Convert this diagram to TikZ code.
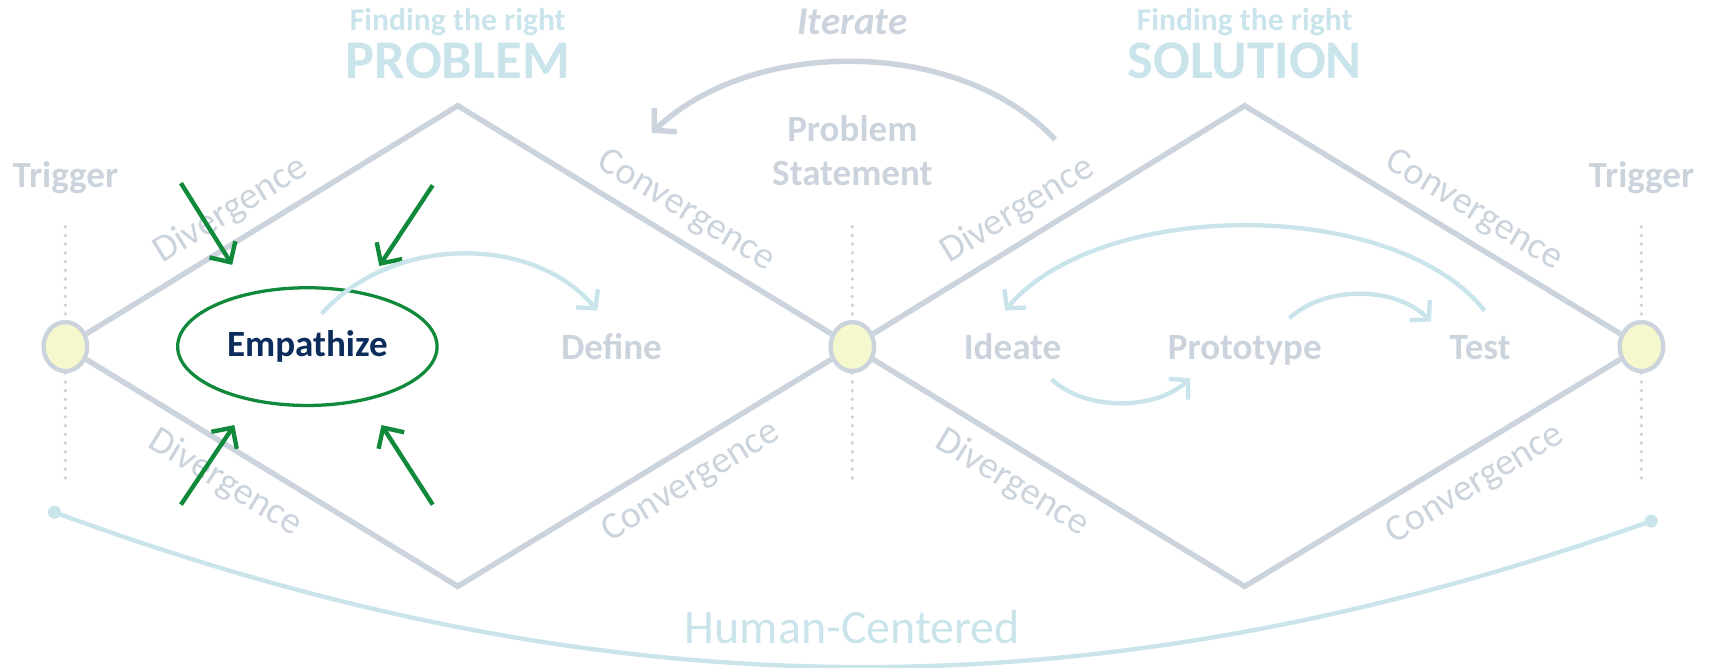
\documentclass[tikz,border=0pt]{standalone}
\usepackage{fontspec}
\setmainfont{Carlito}
\usetikzlibrary{arrows.meta,shapes.geometric}

\definecolor{cinza}{HTML}{CBD3DC}
\definecolor{azul}{HTML}{C9E4EB}
\definecolor{amarelo}{HTML}{F5F7CD}
\definecolor{verde}{HTML}{108A3A}
\definecolor{marinho}{HTML}{0C2D5B}

\begin{document}
\begin{tikzpicture}[
    x=0.5pt, y=-0.5pt,
    every node/.style={font=\fontsize{17}{20}\selectfont\bfseries, text=cinza}
  ]

  \tikzset{
    gate/.style={ellipse, draw=cinza, line width=2pt, fill=amarelo, minimum width=20pt, minimum height=22.5pt, inner sep=0pt},
    stage/.style={anchor=base},
    edgelab/.style={font=\fontsize{17.5}{20}\selectfont, sloped},
    track/.style={draw=cinza, line width=2.5pt},
    dots/.style={draw=cinza, line width=1.75pt, line cap=round, dash pattern=on 0pt off 4pt},
    bluearc/.style={draw=azul, line width=2pt, -{Straight Barb[length=6pt, width=13pt]}},
    greyarc/.style={draw=cinza, line width=2.5pt, -{Straight Barb[length=7pt, width=15pt]}},
    greenarr/.style={draw=verde, line width=2pt, -{Straight Barb[length=7pt, width=14pt]}},
    head/.style={anchor=base, text=azul}
  }

  \useasboundingbox (0,0) rectangle (1568,612);

  % Titles
  \node[head, font=\fontsize{14.5}{16}\selectfont\bfseries] (fr1) at (420,28) {Finding the right};
  \node[head, font=\fontsize{25}{27}\selectfont\bfseries] (prob) at (420,72) {PROBLEM};
  \node[head, font=\fontsize{14.5}{16}\selectfont\bfseries] (fr2) at (1142,28) {Finding the right};
  \node[head, font=\fontsize{25}{27}\selectfont\bfseries] (sol) at (1142,72) {SOLUTION};
  \node[stage, font=\fontsize{18}{20}\selectfont\bfseries\itshape] (iter) at (782,32) {Iterate};

  \node[stage] (trgA) at (60,172) {Trigger};
  \node[stage] (trgB) at (1506,172) {Trigger};
  \node[stage] (ps1) at (782,130) {Problem};
  \node[stage] (ps2) at (782,170) {Statement};

  % Diamond corners
  \coordinate (probTop) at (420,97);
  \coordinate (probBot) at (420,538);
  \coordinate (solTop) at (1142,97);
  \coordinate (solBot) at (1142,538);

  % Dotted guides
  \coordinate (dA1) at (60,208);
  \coordinate (dA2) at (60,445);
  \coordinate (dM1) at (782,208);
  \coordinate (dM2) at (782,445);
  \coordinate (dB1) at (1506,208);
  \coordinate (dB2) at (1506,445);

  % Gates
  \node[gate] (trigA) at (60,318) {};
  \node[gate] (stmt) at (782,318) {};
  \node[gate] (trigB) at (1506,318) {};

  \draw[dots] (dA1) -- (trigA);
  \draw[dots] (trigA) -- (dA2);
  \draw[dots] (dM1) -- (stmt);
  \draw[dots] (stmt) -- (dM2);
  \draw[dots] (dB1) -- (trigB);
  \draw[dots] (trigB) -- (dB2);

  % Problem diamond
  \draw[track] (trigA) -- node[edgelab, above=1.5pt, pos=.43] {Divergence} (probTop)
    -- node[edgelab, above=1.5pt, pos=.57] {Convergence} (stmt);
  \draw[track] (trigA) -- node[edgelab, below=3pt, pos=.42] {Divergence} (probBot)
    -- node[edgelab, below=3pt, pos=.58] {Convergence} (stmt);

  % Solution diamond
  \draw[track] (stmt) -- node[edgelab, above=1.5pt, pos=.43] {Divergence} (solTop)
    -- node[edgelab, above=1.5pt, pos=.57] {Convergence} (trigB);
  \draw[track] (stmt) -- node[edgelab, below=3pt, pos=.42] {Divergence} (solBot)
    -- node[edgelab, below=3pt, pos=.57] {Convergence} (trigB);

  % Stages
  \node[ellipse, draw=verde, line width=1.5pt, minimum width=119pt, minimum height=54pt, text=marinho] (emp) at (282,318) {Empathize};
  \node[stage] (def) at (561,330) {Define};
  \node[stage] (ide) at (929,330) {Ideate};
  \node[stage] (pro) at (1142,330) {Prototype};
  \node[stage] (tst) at (1358,330) {Test};

  % Green arrows
  \coordinate (g1a) at (166,168);
  \coordinate (g1b) at (213,243);
  \coordinate (g2a) at (397,170);
  \coordinate (g2b) at (348,244);
  \coordinate (g3a) at (166,463);
  \coordinate (g3b) at (215,390);
  \coordinate (g4a) at (397,463);
  \coordinate (g4b) at (350,390);
  \draw[greenarr] (g1a) -- (g1b);
  \draw[greenarr] (g2a) -- (g2b);
  \draw[greenarr] (g3a) -- (g3b);
  \draw[greenarr] (g4a) -- (g4b);

  % Blue loops
  \coordinate (b1a) at (295,288);
  \coordinate (b1b) at (548,285);
  \coordinate (b2a) at (1362,285);
  \coordinate (b2b) at (922,285);
  \coordinate (b3a) at (1183,292);
  \coordinate (b3b) at (1313,295);
  \coordinate (b4a) at (965,348);
  \coordinate (b4b) at (1092,347);
  \draw[bluearc] (b1a) .. controls (360,215) and (490,215) .. (b1b);
  \draw[bluearc] (b2a) .. controls (1280,181) and (1010,181) .. (b2b);
  \draw[bluearc] (b3a) .. controls (1215,262) and (1280,262) .. (b3b);
  \draw[bluearc] (b4a) .. controls (995,377) and (1060,377) .. (b4b);

  % Iterate
  \coordinate (itA) at (968,128);
  \coordinate (itB) at (598,122);
  \draw[greyarc] (itA) .. controls (880,34) and (690,34) .. (itB);

  % Human-Centered
  \node[circle, fill=azul, minimum size=6pt, inner sep=0pt] (hcA) at (50,470) {};
  \node[circle, fill=azul, minimum size=6pt, inner sep=0pt] (hcB) at (1515,478) {};
  \draw[azul, line width=2pt] (hcA.center) .. controls (560,658) and (1010,658) .. (hcB.center);
  \node[head, font=\fontsize{22}{24}\selectfont] (hc) at (782,590) {Human-Centered};

\end{tikzpicture}
\end{document}
